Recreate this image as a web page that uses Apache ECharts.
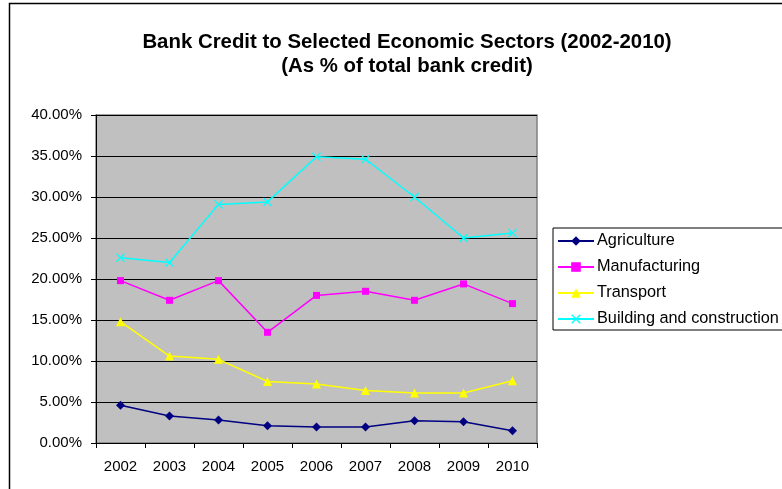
<!DOCTYPE html>
<html>
<head>
<meta charset="utf-8">
<script src="https://cdn.jsdelivr.net/npm/echarts@6/dist/echarts.min.js"></script>
<style>
  html, body { margin: 0; padding: 0; background: #fff; }
  #chart { width: 782px; height: 489px; }
</style>
</head>
<body>
<div id="chart"></div>
<script>
// Years on the category axis
const years = ['2002', '2003', '2004', '2005', '2006', '2007', '2008', '2009', '2010'];

// Share of total bank credit, in percent
const agriculture = [4.6, 3.3, 2.8, 2.1, 1.95, 1.95, 2.7, 2.6, 1.5];
const manufacturing = [19.8, 17.4, 19.8, 13.5, 18.0, 18.5, 17.4, 19.4, 17.0];
const transport = [14.8, 10.6, 10.2, 7.5, 7.2, 6.4, 6.1, 6.1, 7.6];
const building = [22.6, 22.0, 29.1, 29.4, 34.9, 34.6, 30.0, 25.0, 25.6];

const seriesNames = ['Agriculture', 'Manufacturing', 'Transport', 'Building and construction'];

// Cross-shaped marker for the building series
const crossSymbol = 'path://M0,1L1,0L5,4L9,0L10,1L6,5L10,9L9,10L5,6L1,10L0,9L4,5Z';

const FONT = 'Liberation Sans, Arial, sans-serif';

const chart = echarts.init(document.getElementById('chart'));

function lineSeries(name, data, color, symbol, size) {
  return {
    name: name,
    type: 'line',
    data: data,
    symbol: symbol,
    symbolSize: size,
    showAllSymbol: true,
    animation: false,
    lineStyle: { color: color, width: 1.5 },
    itemStyle: { color: color },
    emphasis: { disabled: true }
  };
}

chart.setOption({
  animation: false,
  textStyle: { fontFamily: FONT },
  graphic: [{
    type: 'rect',
    shape: { x: 9.5, y: 3.5, width: 820, height: 520 },
    style: { fill: 'none', stroke: '#000', lineWidth: 1.5 },
    silent: true,
    z: -10
  }],
  title: {
    text: 'Bank Credit to Selected Economic Sectors (2002-2010)\n(As % of total bank credit)',
    left: 402,
    textAlign: 'center',
    top: 25,
    textStyle: {
      fontFamily: FONT,
      fontSize: 20.4,
      fontWeight: 'bold',
      color: '#000',
      lineHeight: 24
    }
  },
  legend: {
    orient: 'vertical',
    left: 553,
    top: 228,
    padding: [5, 24, 3, 4],
    itemWidth: 36,
    itemHeight: 12,
    itemGap: 10,
    borderColor: '#000',
    borderWidth: 1,
    backgroundColor: '#fff',
    data: seriesNames,
    textStyle: {
      fontFamily: FONT,
      fontSize: 16.3,
      lineHeight: 16,
      color: '#000',
      padding: [0, 0, 0, -2]
    },
    selectedMode: false
  },
  grid: {
    left: 96,
    top: 115,
    right: 245,
    bottom: 46,
    show: true,
    backgroundColor: '#C0C0C0',
    borderColor: '#808080',
    borderWidth: 1.5
  },
  xAxis: {
    type: 'category',
    data: years,
    boundaryGap: true,
    axisLine: { lineStyle: { color: '#000', width: 1 } },
    axisTick: { show: true, alignWithLabel: false, length: 5, lineStyle: { color: '#000' } },
    axisLabel: {
      color: '#000',
      fontSize: 15,
      margin: 16,
      fontFamily: FONT
    },
    splitLine: { show: false }
  },
  yAxis: {
    type: 'value',
    min: 0,
    max: 40,
    interval: 5,
    axisLine: { show: true, lineStyle: { color: '#000', width: 1 } },
    axisTick: { show: true, length: 5, lineStyle: { color: '#000' } },
    axisLabel: {
      color: '#000',
      fontSize: 15,
      margin: 14,
      fontFamily: FONT,
      formatter: function (v) { return v.toFixed(2) + '%'; }
    },
    splitLine: { show: true, lineStyle: { color: '#000', width: 1 } }
  },
  series: [
    lineSeries(seriesNames[0], agriculture, '#000080', 'diamond', 9),
    lineSeries(seriesNames[1], manufacturing, '#FF00FF', 'rect', 7),
    lineSeries(seriesNames[2], transport, '#FFFF00', 'triangle', 9),
    lineSeries(seriesNames[3], building, '#00FFFF', crossSymbol, 9)
  ]
});
</script>
</body>
</html>
